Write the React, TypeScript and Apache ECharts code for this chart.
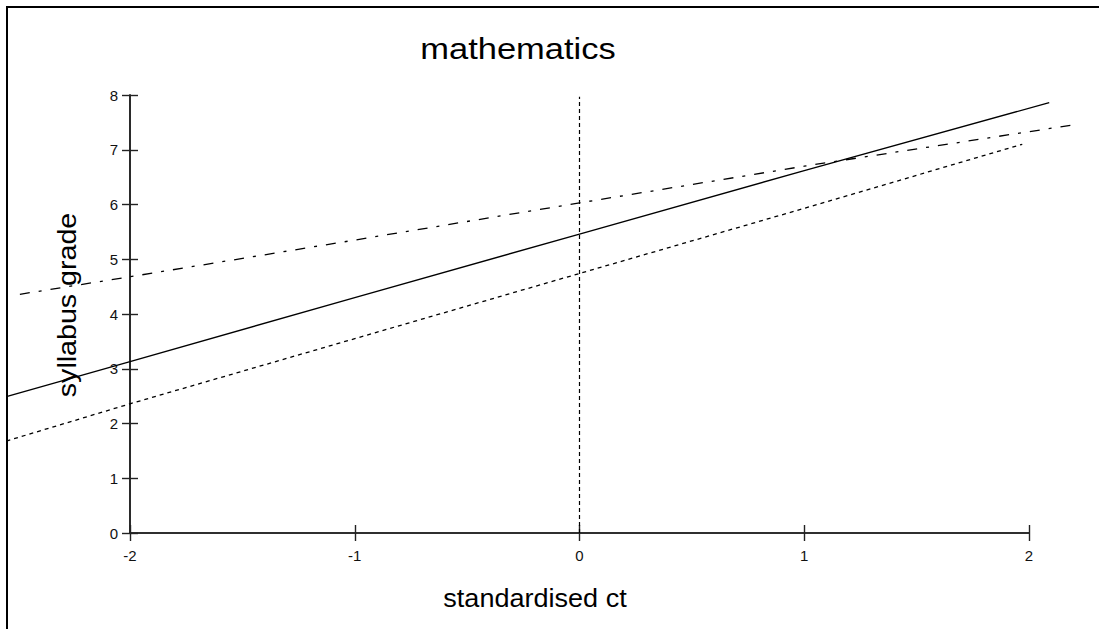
import React, { useEffect, useRef } from "react";
import * as echarts from "echarts";

// Data
const solidLine: [number, number][] = [
  [-2.55, 2.49],
  [-2, 3.13],
  [-1, 4.3],
  [0, 5.46],
  [1, 6.62],
  [2.09, 7.86],
];
const dottedLine: [number, number][] = [
  [-2.55, 1.68],
  [-2, 2.36],
  [-1, 3.55],
  [0, 4.74],
  [1, 5.93],
  [1.97, 7.1],
];
const dashDotLine: [number, number][] = [
  [-2.49, 4.36],
  [-2, 4.68],
  [-1, 5.35],
  [0, 6.03],
  [1, 6.7],
  [2.19, 7.45],
];
const zeroLine: [number, number][] = [
  [0, 0],
  [0, 7.97],
];
const xTicks = [-2, -1, 0, 1, 2];
const yTicks = [0, 1, 2, 3, 4, 5, 6, 7, 8];
const dataXRange = [-2.55, 2.2];

const titleText = "mathematics";
const xName = "standardised ct";
const yName = "syllabus grade";

const FONT = "'Liberation Sans', Arial, sans-serif";

export default function App() {
  const ref = useRef<HTMLDivElement>(null);
  useEffect(() => {
    if (!ref.current) return;
    const chart = echarts.init(ref.current, null, { renderer: "svg" });
    const axisLineStyle = { color: "#222", width: 1.6 };
    const tickStyle = { color: "#222", width: 1.4 };
    const plotLeft = 130;
    const plotRight = 70;
    const plotW = 1099 - plotLeft - plotRight;
    const unit = plotW / (xTicks[xTicks.length - 1] - xTicks[0]);
    const dataLeft = plotLeft - (xTicks[0] - dataXRange[0]) * unit;
    const dataRight = plotRight - (dataXRange[1] - xTicks[xTicks.length - 1]) * unit;
    const top = 95;
    const bottom = 96;
    const hidden = {
      axisLine: { show: false },
      axisTick: { show: false },
      axisLabel: { show: false },
      splitLine: { show: false },
    };
    chart.setOption({
      animation: false,
      backgroundColor: "#fff",
      textStyle: { fontFamily: FONT },
      grid: [
        { left: dataLeft, right: dataRight, top, bottom },
        { left: plotLeft, right: plotRight, top, bottom },
        { left: plotLeft, right: plotRight, top, bottom },
      ],
      xAxis: [
        { type: "value", gridIndex: 0, min: dataXRange[0], max: dataXRange[1], ...hidden },
        {
          type: "value",
          gridIndex: 1,
          min: xTicks[0],
          max: xTicks[xTicks.length - 1],
          interval: 1,
          axisLine: { show: true, onZero: false, lineStyle: axisLineStyle },
          axisTick: { show: true, inside: false, length: 8, lineStyle: tickStyle },
          axisLabel: { color: "#111", fontSize: 15, margin: 15, fontFamily: FONT },
          splitLine: { show: false },
        },
        {
          type: "value",
          gridIndex: 2,
          min: xTicks[0],
          max: xTicks[xTicks.length - 1],
          interval: 1,
          axisLine: { show: true, onZero: false, lineStyle: axisLineStyle },
          axisTick: { show: true, inside: true, length: 8, lineStyle: tickStyle },
          axisLabel: { show: false },
          splitLine: { show: false },
        },
      ],
      yAxis: [
        { type: "value", gridIndex: 0, min: yTicks[0], max: yTicks[yTicks.length - 1], ...hidden },
        {
          type: "value",
          gridIndex: 1,
          min: yTicks[0],
          max: yTicks[yTicks.length - 1],
          interval: 1,
          axisLine: { show: true, onZero: false, lineStyle: axisLineStyle },
          axisTick: { show: true, inside: false, length: 8, lineStyle: tickStyle },
          axisLabel: { color: "#111", fontSize: 15, margin: 12, fontFamily: FONT },
          splitLine: { show: false },
        },
        {
          type: "value",
          gridIndex: 2,
          min: yTicks[0],
          max: yTicks[yTicks.length - 1],
          interval: 1,
          axisLine: { show: true, onZero: false, lineStyle: axisLineStyle },
          axisTick: { show: true, inside: true, length: 8, lineStyle: tickStyle },
          axisLabel: { show: false },
          splitLine: { show: false },
        },
      ],
      graphic: [
        {
          type: "rect",
          shape: { x: 7, y: 7, width: 1200, height: 700 },
          style: { fill: "none", stroke: "#000", lineWidth: 2 },
          silent: true,
          z: 100,
        },
        {
          type: "text",
          x: 518,
          y: 49,
          scaleX: 1.15,
          style: {
            text: titleText,
            fill: "#000",
            font: `30px ${FONT}`,
            textAlign: "center",
            textVerticalAlign: "middle",
          },
        },
        {
          type: "text",
          x: 535,
          y: 598,
          scaleX: 1.04,
          style: {
            text: xName,
            fill: "#000",
            font: `26px ${FONT}`,
            textAlign: "center",
            textVerticalAlign: "middle",
          },
        },
        {
          type: "text",
          x: 67,
          y: 305,
          rotation: Math.PI / 2,
          scaleX: 1.1,
          style: {
            text: yName,
            fill: "#000",
            font: `26px ${FONT}`,
            textAlign: "center",
            textVerticalAlign: "middle",
          },
        },
      ],
      series: [
        {
          type: "line",
          name: "fit",
          xAxisIndex: 0,
          yAxisIndex: 0,
          data: solidLine,
          showSymbol: false,
          clip: false,
          lineStyle: { color: "#000", width: 1.4, type: "solid" },
        },
        {
          type: "line",
          name: "lower",
          xAxisIndex: 0,
          yAxisIndex: 0,
          data: dottedLine,
          showSymbol: false,
          clip: false,
          lineStyle: { color: "#000", width: 1.3, type: [4, 4] },
        },
        {
          type: "line",
          name: "upper",
          xAxisIndex: 0,
          yAxisIndex: 0,
          data: dashDotLine,
          showSymbol: false,
          clip: false,
          lineStyle: { color: "#000", width: 1.3, type: [10, 9, 3, 9] },
        },
        {
          type: "line",
          name: "zero",
          xAxisIndex: 0,
          yAxisIndex: 0,
          data: zeroLine,
          showSymbol: false,
          clip: false,
          lineStyle: { color: "#000", width: 1.2, type: [4, 3] },
        },
      ],
    });
    return () => chart.dispose();
  }, []);
  return (
    <div
      ref={ref}
      style={{ position: "fixed", left: 0, top: 0, width: 1099, height: 629, background: "#fff" }}
    />
  );
}
